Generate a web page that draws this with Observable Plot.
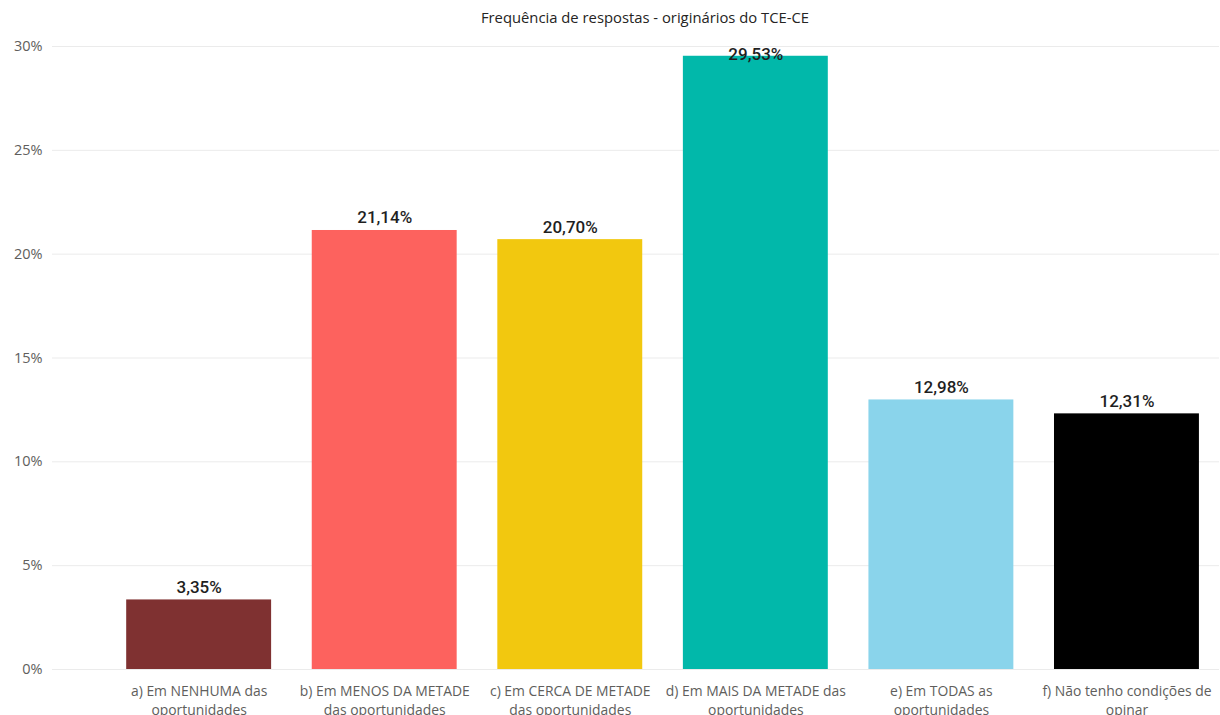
<!DOCTYPE html>
<html>
<head>
<meta charset="utf-8">
<script src="https://cdn.jsdelivr.net/npm/d3@7"></script>
<script src="https://cdn.jsdelivr.net/npm/@observablehq/plot@0.6"></script>
<style>
  html, body { margin: 0; padding: 0; background: #fff; }
  #wrap { position: relative; width: 1220px; height: 715px; overflow: hidden; }
  #title { position: absolute; top: 7px; left: 0; width: 1290px; text-align: center;
           font-family: "Open Sans", sans-serif; font-size: 14.8px; color: #252423; }
</style>
</head>
<body>
<div id="wrap">
  <div id="title">Frequência de respostas - originários do TCE-CE</div>
  <div id="chart"></div>
</div>
<script>
const categories = ["a", "b", "c", "d", "e", "f"];
const tickLabels = [
  "a) Em NENHUMA das\noportunidades",
  "b) Em MENOS DA METADE\ndas oportunidades",
  "c) Em CERCA DE METADE\ndas oportunidades",
  "d) Em MAIS DA METADE das\noportunidades",
  "e) Em TODAS as\noportunidades",
  "f) Não tenho condições de\nopinar"
];
const values = [3.35, 21.14, 20.70, 29.53, 12.98, 12.31];
const colors = ["#7F3131", "#FD625E", "#F2C80F", "#01B8AA", "#8AD4EB", "#000000"];
const yTicks = [0, 5, 10, 15, 20, 25, 30];

const data = categories.map((c, i) => ({cat: c, value: values[i], label: tickLabels[i]}));
const fmt = v => v.toFixed(2).replace(".", ",") + "%";
const labelOf = Object.fromEntries(categories.map((c, i) => [c, tickLabels[i]]));

const chart = Plot.plot({
  width: 1220,
  height: 715,
  marginTop: 46,
  marginBottom: 46,
  marginLeft: 52,
  marginRight: 1,
  style: {fontFamily: "Open Sans, sans-serif", fontSize: "14px", color: "#605E5C", background: "#fff"},
  x: {domain: categories, paddingInner: 0.219, paddingOuter: 0.254, align: 0.787, round: false, label: null},
  y: {domain: [0, 30], label: null},
  color: {domain: categories, range: colors},
  marks: [
    Plot.gridY(yTicks, {stroke: "#ebebeb", strokeOpacity: 1, strokeWidth: 1}),
    Plot.axisY(yTicks, {tickSize: 0, tickPadding: 10, tickFormat: d => d + "%", fontSize: 14.5, fill: "#605E5C", anchor: "left"}),
    Plot.axisX({tickSize: 0, tickPadding: 13, tickFormat: d => labelOf[d], fontSize: 13.9, fill: "#605E5C", lineHeight: 1.38}),
    Plot.barY(data, {x: "cat", y: "value", fill: "cat"}),
    Plot.text(data.filter(d => d.value < 29), {x: "cat", y: "value", text: d => fmt(d.value), lineAnchor: "bottom", dy: -7,
      fontFamily: "Roboto, sans-serif", fontWeight: 500, fontSize: 17, fill: "#1f1f1f"}),
    Plot.text(data.filter(d => d.value >= 29), {x: "cat", y: () => 30, text: d => fmt(d.value), lineAnchor: "top", dy: 1,
      fontFamily: "Roboto, sans-serif", fontWeight: 500, fontSize: 17, fill: "#1f1f1f"})
  ]
});
document.getElementById("chart").appendChild(chart);
</script>
</body>
</html>
